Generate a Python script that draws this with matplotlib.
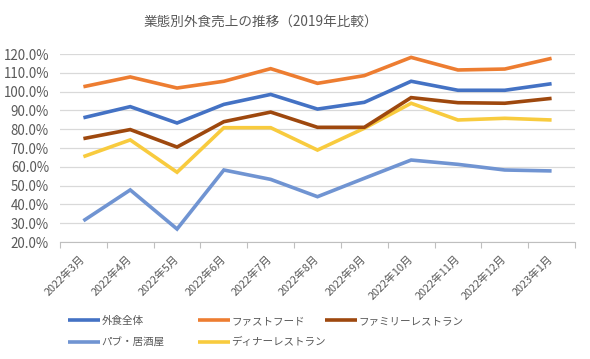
import numpy as np
import matplotlib
matplotlib.use("Agg")
from matplotlib import pyplot as plt
from matplotlib.ticker import FuncFormatter, FixedLocator

plt.rcParams['font.family'] = ['Noto Sans CJK JP', 'DejaVu Sans']

# data (percent of 2019)
months = ["2022年3月", "2022年4月", "2022年5月", "2022年6月", "2022年7月", "2022年8月",
          "2022年9月", "2022年10月", "2022年11月", "2022年12月", "2023年1月"]
total = [86.1, 92.0, 83.3, 93.2, 98.5, 90.7, 94.3, 105.5, 100.7, 100.7, 104.2]
fastfood = [102.6, 107.8, 101.9, 105.5, 112.2, 104.4, 108.5, 118.2, 111.5, 112.0, 117.7]
family = [75.0, 79.8, 70.5, 84.0, 89.1, 81.0, 81.0, 96.8, 94.1, 93.8, 96.4]
pub = [31.3, 47.7, 26.9, 58.3, 53.3, 44.1, 53.9, 63.6, 61.3, 58.3, 57.8]
dinner = [65.4, 74.3, 57.1, 80.8, 80.8, 68.9, 80.5, 93.8, 84.9, 85.8, 84.9]

names = ["外食全体", "ファストフード", "ファミリーレストラン", "パブ・居酒屋", "ディナーレストラン"]
colors = ["#4472C4", "#ED7D31", "#9E480E", "#7094D2", "#F8CB3E"]
series = [total, fastfood, family, pub, dinner]

text_col = "#595959"

fig = plt.figure(figsize=(5.9, 3.59), dpi=100)
ax = fig.add_axes([60 / 590, (359 - 242) / 359, (575 - 60) / 590, (242 - 54) / 359])

x = np.arange(len(months))
# draw order: pub and dinner underneath, then family, total, fastfood
order = [3, 4, 2, 0, 1]
handles = {}
for i in order:
    ln, = ax.plot(x, series[i], color=colors[i], lw=2.6, solid_joinstyle='miter',
                  solid_capstyle='butt', zorder=3, label=names[i])
    handles[i] = ln

ax.set_xlim(-0.5, len(months) - 0.5)
ax.set_ylim(20, 120)
ax.set_yticks(np.arange(20, 121, 10))
ax.yaxis.set_major_formatter(FuncFormatter(lambda v, p: f"{v:.1f}%"))
ax.grid(axis='y', color="#D9D9D9", lw=0.9, zorder=0)
ax.set_axisbelow(True)

ax.set_xticks(x)
ax.set_xticklabels(months, rotation=45, ha='right', va='center', rotation_mode='anchor')
ax.xaxis.set_minor_locator(FixedLocator(np.arange(-0.5, len(months), 1.0)))
ax.tick_params(axis='x', which='major', length=0, pad=11, labelsize=7.8, colors=text_col)
ax.tick_params(axis='x', which='minor', length=4, color="#BFBFBF", width=0.8)
ax.tick_params(axis='y', length=0, labelsize=9.6, colors=text_col, pad=8)

for s in ['top', 'right', 'left']:
    ax.spines[s].set_visible(False)
ax.spines['bottom'].set_color("#BFBFBF")
ax.spines['bottom'].set_linewidth(0.8)

fig.text(261 / 590, 1 - 22 / 359, "業態別外食売上の推移（2019年比較）", ha='center', va='center',
         fontsize=9.8, color=text_col)

# legend: Excel-style equal-width columns, built as one legend per column
cols = [[0, 3], [1, 4], [2]]
col_x = [68, 198, 325]
for cx, idx in zip(col_x, cols):
    leg = fig.legend([handles[i] for i in idx], [names[i] for i in idx],
                     loc='upper left', bbox_to_anchor=(cx / 590, 1 - 316 / 359),
                     frameon=False, fontsize=7.6, handlelength=3.0, handletextpad=0.15,
                     labelspacing=1.05, borderaxespad=0, borderpad=0)
    for t in leg.get_texts():
        t.set_color(text_col)

fig.savefig("out.png", dpi=100)
